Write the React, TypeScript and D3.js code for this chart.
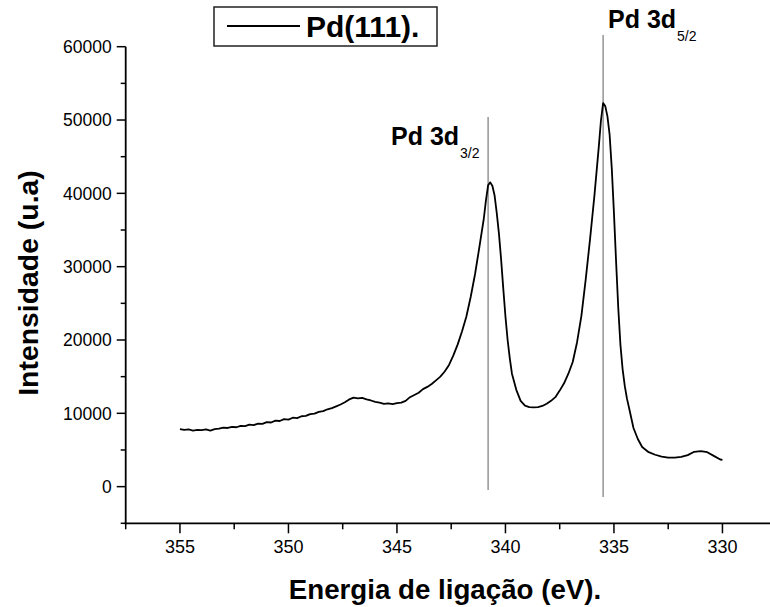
import React from "react";
import * as d3 from "d3";

// XPS spectrum of Pd(111): binding energy (eV) vs intensity (counts)
const energies: number[] = [
  355.0, 354.8, 354.6, 354.4, 354.2, 354.0, 353.8, 353.6, 353.4, 353.2, 353.0,
  352.8, 352.6, 352.4, 352.2, 352.0, 351.8, 351.6, 351.4, 351.2, 351.0, 350.8,
  350.6, 350.4, 350.2, 350.0, 349.8, 349.6, 349.4, 349.2, 349.0, 348.8, 348.6,
  348.4, 348.2, 348.0, 347.8, 347.6, 347.4, 347.2, 347.0, 346.8, 346.6, 346.4,
  346.2, 346.0, 345.8, 345.6, 345.4, 345.2, 345.0, 344.8, 344.6, 344.4, 344.2,
  344.0, 343.8, 343.6, 343.4, 343.2, 343.0, 342.8, 342.6, 342.4, 342.2, 342.0,
  341.8, 341.6, 341.4, 341.2, 341.0, 340.9, 340.8, 340.7, 340.6, 340.5, 340.4,
  340.3, 340.2, 340.1, 340.0, 339.9, 339.8, 339.7, 339.5, 339.3, 339.1, 338.9,
  338.7, 338.5, 338.3, 338.1, 337.9, 337.7, 337.5, 337.3, 337.1, 336.9, 336.7,
  336.5, 336.3, 336.1, 335.9, 335.7, 335.6, 335.5, 335.4, 335.3, 335.2, 335.1,
  335.0, 334.9, 334.8, 334.7, 334.6, 334.5, 334.4, 334.3, 334.1, 333.9, 333.7,
  333.4, 333.1, 332.8, 332.5, 332.2, 331.9, 331.6, 331.3, 331.0, 330.7, 330.4,
  330.1, 330.0,
];

const intensities: number[] = [
  7850, 7750, 7800, 7650, 7750, 7700, 7800, 7650, 7850, 7900, 8050,
  8000, 8150, 8100, 8300, 8250, 8450, 8400, 8600, 8550, 8800, 8750,
  9000, 8950, 9200, 9150, 9400, 9350, 9600, 9650, 9900, 9950, 10200,
  10300, 10550, 10700, 10950, 11200, 11500, 11900, 12150, 12050, 12100, 11900,
  11750, 11550, 11450, 11300, 11350, 11250, 11400, 11450, 11700, 12200, 12500,
  12800, 13300, 13600, 14000, 14500, 15000, 15700, 16600, 17900, 19400, 21200,
  23200, 25900, 29000, 32700, 36500, 39000, 41100, 41500, 41000, 39700, 37300,
  34500, 31000, 27000, 23200, 20000, 17500, 15400, 13200, 11700, 11050, 10850,
  10800, 10850, 11000, 11300, 11700, 12200, 13100, 14100, 15400, 17000, 19700,
  23300, 28300, 33800, 39700, 46300, 49900, 52300, 51900, 50500, 48000, 43400,
  37300, 30600, 24300, 19300, 16000, 13700, 12000, 10700, 8000, 6500, 5400,
  4700, 4350, 4100, 3950, 3950, 4050, 4300, 4750, 4850, 4700, 4200,
  3700, 3650,
];

// Axis ticks
const xMajorTicks: number[] = [355, 350, 345, 340, 335, 330];
const xMinorTicks: number[] = [357.5, 352.5, 347.5, 342.5, 337.5, 332.5];
const yMajorTicks: number[] = [0, 10000, 20000, 30000, 40000, 50000, 60000];
const yMinorTicks: number[] = [-5000, 5000, 15000, 25000, 35000, 45000, 55000];

// Peak marker lines: position (eV), top and bottom (counts)
const peakEnergies: number[] = [340.8, 335.5];
const peakLineTops: number[] = [50400, 61600];
const peakLineBottoms: number[] = [-450, -1400];

const seriesName = "Pd(111).";
const xTitle = "Energia de ligação (eV).";
const yTitle = "Intensidade (u.a)";

const FONT = "'Liberation Sans', Arial, Helvetica, sans-serif";

export default function App() {
  const width = 770;
  const height = 607;

  const x = d3.scaleLinear().domain([357.5, 327.5]).range([125.7, 776.7]);
  const y = d3.scaleLinear().domain([-5000, 60000]).range([523.3, 46.7]);

  const points: [number, number][] = energies.map((e, i) => [e, intensities[i]]);
  const line = d3
    .line<[number, number]>()
    .x((d) => x(d[0]))
    .y((d) => y(d[1]))
    .curve(d3.curveLinear);

  const axisX0 = x.range()[0];
  const axisY0 = y.range()[0];

  return (
    <div style={{ position: "absolute", left: 0, top: 0 }}>
      <svg width={width} height={height} style={{ display: "block", background: "#fff" }} fontFamily={FONT}>
        {/* peak marker lines */}
        {peakEnergies.map((e, i) => (
          <line
            key={"pk" + i}
            x1={x(e)}
            x2={x(e)}
            y1={y(peakLineTops[i])}
            y2={y(peakLineBottoms[i])}
            stroke="#7a7a7a"
            strokeWidth={1.2}
          />
        ))}

        {/* spectrum */}
        <path d={line(points) || ""} fill="none" stroke="#000" strokeWidth={1.8} strokeLinejoin="round" />

        {/* y axis */}
        <line x1={axisX0} x2={axisX0} y1={y(60000)} y2={axisY0 + 1} stroke="#000" strokeWidth={1.8} />
        {yMajorTicks.map((t) => (
          <g key={"ym" + t}>
            <line x1={axisX0 - 9} x2={axisX0} y1={y(t)} y2={y(t)} stroke="#000" strokeWidth={1.5} />
            <text x={axisX0 - 14} y={y(t)} dy="0.36em" textAnchor="end" fontSize={17.5} fill="#000">
              {t}
            </text>
          </g>
        ))}
        {yMinorTicks.map((t) => (
          <line key={"yn" + t} x1={axisX0 - 5} x2={axisX0} y1={y(t)} y2={y(t)} stroke="#000" strokeWidth={1.5} />
        ))}

        {/* x axis */}
        <line x1={axisX0 - 1} x2={width} y1={axisY0} y2={axisY0} stroke="#000" strokeWidth={1.8} />
        {xMajorTicks.map((t) => (
          <g key={"xm" + t}>
            <line x1={x(t)} x2={x(t)} y1={axisY0} y2={axisY0 + 10} stroke="#000" strokeWidth={1.5} />
            <text x={x(t)} y={553} textAnchor="middle" fontSize={18} fill="#000">
              {t}
            </text>
          </g>
        ))}
        {xMinorTicks.map((t) => (
          <line key={"xn" + t} x1={x(t)} x2={x(t)} y1={axisY0} y2={axisY0 + 6} stroke="#000" strokeWidth={1.5} />
        ))}

        {/* axis titles */}
        <text x={445} y={599} textAnchor="middle" fontSize={27.7} fontWeight="bold" fill="#000">
          {xTitle}
        </text>
        <text
          transform={`translate(38, 283) rotate(-90)`}
          textAnchor="middle"
          fontSize={28.4}
          fontWeight="bold"
          fill="#000"
        >
          {yTitle}
        </text>

        {/* peak labels */}
        <text x={391} y={145} fontSize={25} fontWeight="bold" fill="#000">
          Pd 3d
          <tspan dx={1} dy={13} fontSize={14} fontWeight="normal">3/2</tspan>
        </text>
        <text x={608} y={28} fontSize={25} fontWeight="bold" fill="#000">
          Pd 3d
          <tspan dx={1} dy={13} fontSize={14} fontWeight="normal">5/2</tspan>
        </text>

        {/* legend */}
        <rect x={214} y={7} width={223} height={39} fill="#fff" stroke="#222" strokeWidth={1.5} />
        <line x1={227} x2={300} y1={26} y2={26} stroke="#000" strokeWidth={1.8} />
        <text x={306} y={37} fontSize={30} fontWeight="bold" fill="#000">
          {seriesName}
        </text>
      </svg>
    </div>
  );
}
